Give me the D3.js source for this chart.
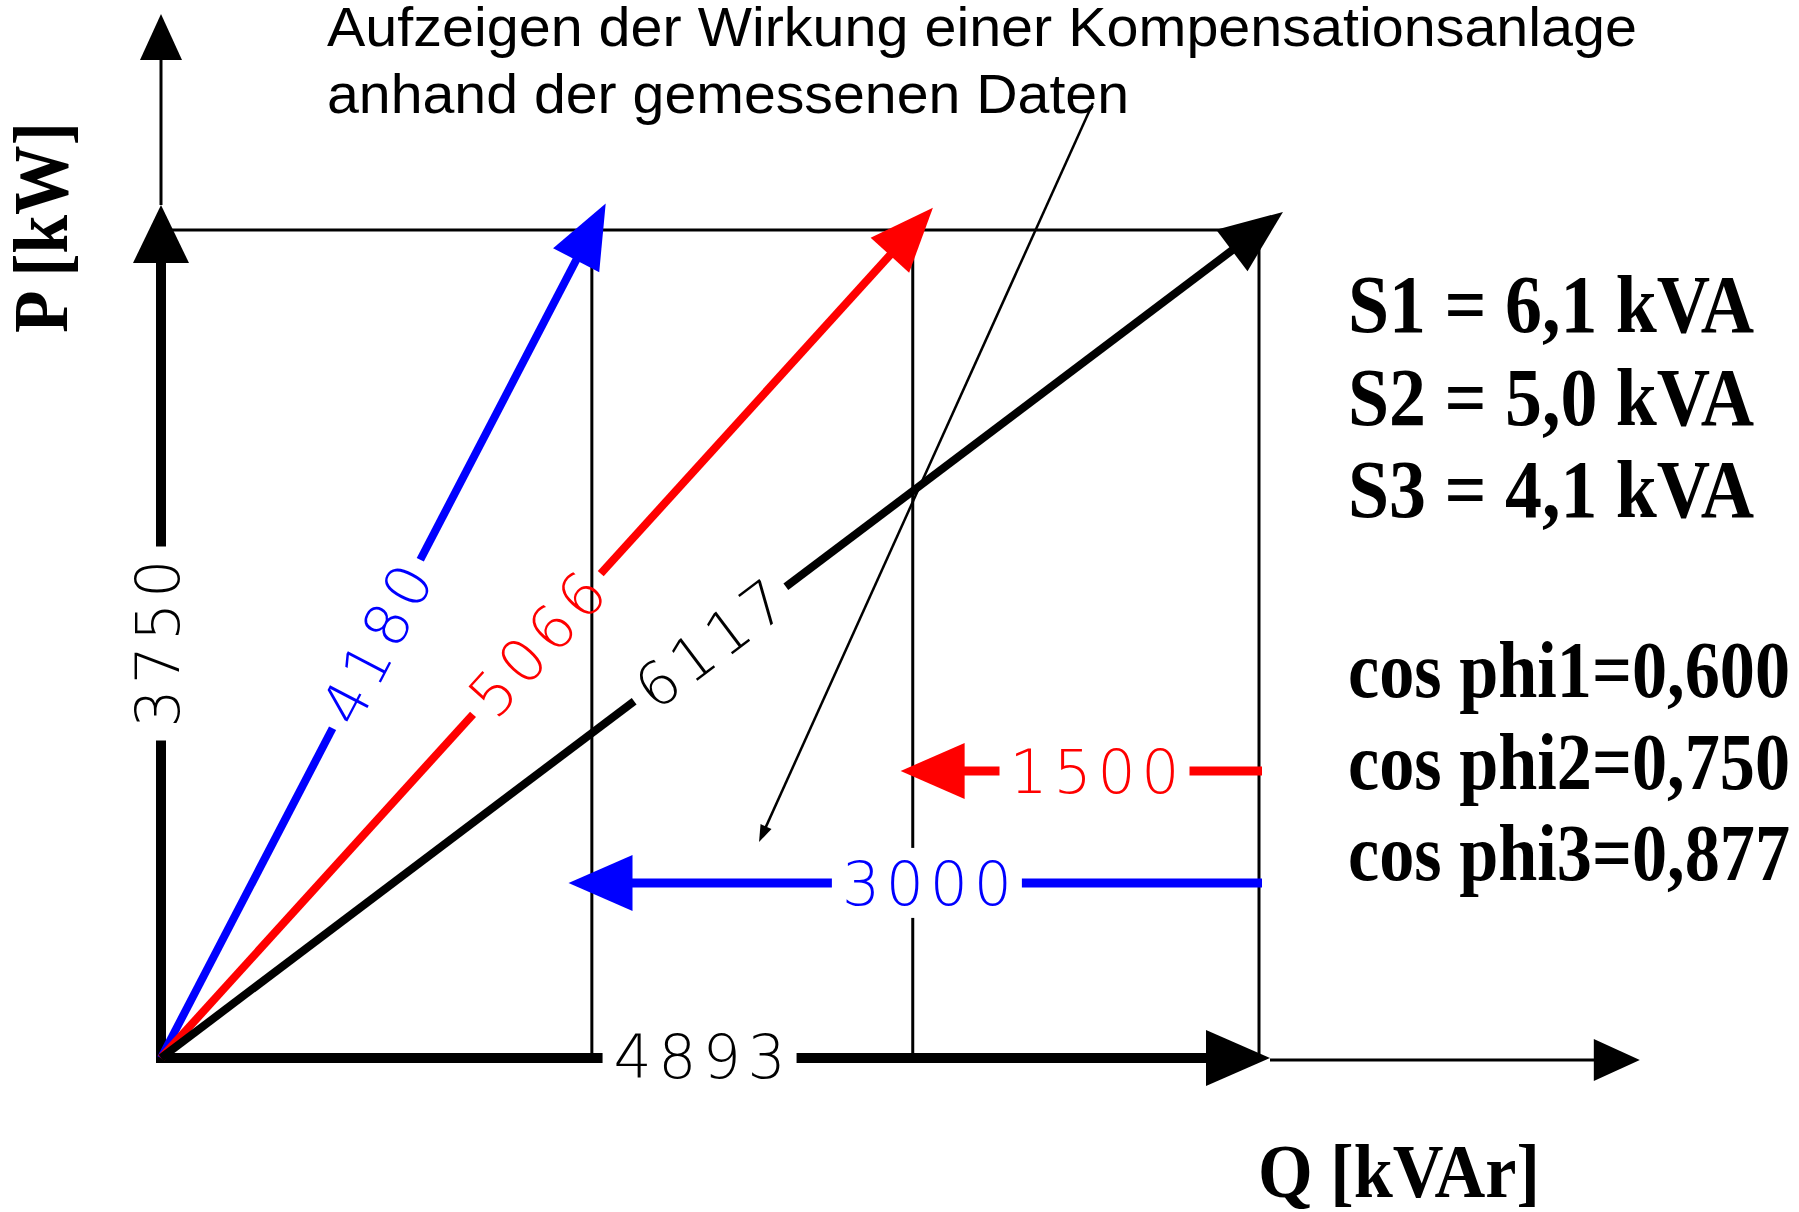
<!DOCTYPE html>
<html lang="de">
<head>
    <meta charset="UTF-8">
    <title>Wirkung einer Kompensationsanlage</title>
    <script src="https://d3js.org/d3.v7.min.js"></script>
    <style>
        html, body { margin: 0; padding: 0; background: #fff; }
        .title { font-family: "Liberation Sans", Arial, sans-serif; font-size: 55px; }
        .serif { font-family: "Liberation Serif", "Times New Roman", serif; font-weight: bold; }
        .num { font-family: "DejaVu Sans", sans-serif; font-weight: 200; font-size: 60px; }
    </style>
</head>
<body>
    <svg width="1799" height="1212"></svg>
    <script>
        // Q values (kVAr) where each power vector ends, P is the same for all three
        const vectorQ = [1920, 3350, 4893];
        const vectorP = 3750;
        const vectorLabels = ["4180", "5066", "6117"];
        const vectorColors = ["#0000ff", "#ff0000", "#000000"];

        // compensation arrows (drawn right to left from Q = 4893)
        const compLabels = ["1500", "3000"];
        const compP = [1300, 793];
        const compTipQ = [3296, 1816];
        const compLabelQ = [4160, 3413];
        const compColors = ["#ff0000", "#0000ff"];

        // axis labels and extents
        const qLabel = "4893", qLabelAt = 2400, qAxisEnd = 6590;
        const pLabel = "3750", pLabelAt = 1877, pAxisEnd = 4728;

        const titleLines = ["Aufzeigen der Wirkung einer Kompensationsanlage", "anhand der gemessenen Daten"];
        const sTexts = ["S1 = 6,1 kVA", "S2 = 5,0 kVA", "S3 = 4,1 kVA"];
        const cosTexts = ["cos phi1=0,600", "cos phi2=0,750", "cos phi3=0,877"];

        // annotation pointer from the title down into the picture
        const pointer = [{q: 4153, p: 4325}, {q: 2665, p: 978}];

        const svg = d3.select("svg");

        const x = d3.scaleLinear().domain([0, 4893]).range([161, 1259]);
        const y = d3.scaleLinear().domain([0, 3750]).range([1058, 230]);

        const x0 = x(0), y0 = y(0);
        const gap = 190;

        function seg(a, b, color, w) {
            svg.append("line")
                .attr("x1", a[0]).attr("y1", a[1])
                .attr("x2", b[0]).attr("y2", b[1])
                .attr("stroke", color).attr("stroke-width", w);
        }

        function head(tip, ux, uy, len, half, color) {
            const bx = tip[0] - ux * len, by = tip[1] - uy * len;
            const nx = -uy, ny = ux;
            svg.append("polygon")
                .attr("points", [
                    tip,
                    [bx + nx * half, by + ny * half],
                    [bx - nx * half, by - ny * half]
                ].map(p => p.join(",")).join(" "))
                .attr("fill", color);
        }

        function label(text, cx, cy, angle, color, len) {
            svg.append("text")
                .attr("class", "num")
                .attr("transform", `translate(${cx},${cy}) rotate(${angle})`)
                .attr("text-anchor", "middle")
                .attr("dy", "0.36em")
                .attr("textLength", len)
                .attr("lengthAdjust", "spacing")
                .attr("fill", color)
                .text(text);
        }

        // thin helper lines
        seg([x0, y(vectorP)], [x(4893), y(vectorP)], "#000", 3);
        vectorQ.forEach(q => seg([x(q), y(vectorP)], [x(q), y0], "#000", 3));

        // pointer
        {
            const a = [x(pointer[0].q), y(pointer[0].p)], b = [x(pointer[1].q), y(pointer[1].p)];
            const L = Math.hypot(b[0] - a[0], b[1] - a[1]);
            const ux = (b[0] - a[0]) / L, uy = (b[1] - a[1]) / L;
            seg(a, [b[0] - ux * 12, b[1] - uy * 12], "#000", 2.5);
            head(b, ux, uy, 17, 6, "#000");
        }

        // P axis
        const pMid = y(pLabelAt);
        const pTip = y(vectorP) - 25;
        seg([x0, y0 + 5], [x0, pMid + gap / 2 + 2], "#000", 10);
        seg([x0, pMid - gap / 2 - 2], [x0, pTip + 50], "#000", 10);
        head([x0, pTip], 0, -1, 58, 28, "#000");
        seg([x0, pTip], [x0, y(pAxisEnd) + 40], "#000", 3);
        head([x0, y(pAxisEnd)], 0, -1, 46, 21, "#000");
        label(pLabel, x0 - 4, pMid, -90, "#000", 168);

        // Q axis
        const qMid = x(qLabelAt);
        const qTip = x(4893) + 11;
        seg([x0 - 5, y0], [qMid - gap / 2 - 2, y0], "#000", 10);
        seg([qMid + gap / 2 + 2, y0], [qTip - 55, y0], "#000", 10);
        head([qTip, y0], 1, 0, 64, 28, "#000");
        seg([qTip, y0 + 2], [x(qAxisEnd) - 40, y0 + 2], "#000", 3);
        head([x(qAxisEnd), y0 + 2], 1, 0, 46, 21, "#000");
        label(qLabel, qMid, y0 - 2, 0, "#000", 172);

        // power vectors S
        vectorQ.forEach((q, i) => {
            const ex = x(q), ey = y(vectorP);
            const L = Math.hypot(ex - x0, ey - y0);
            const ux = (ex - x0) / L, uy = (ey - y0) / L;
            const tipL = L + 30;
            const tip = [x0 + ux * tipL, y0 + uy * tipL];
            const mx = x0 + ux * L / 2, my = y0 + uy * L / 2;
            const c = vectorColors[i];
            seg([x0, y0], [mx - ux * gap / 2, my - uy * gap / 2], c, 8);
            seg([mx + ux * gap / 2, my + uy * gap / 2], [tip[0] - ux * 55, tip[1] - uy * 55], c, 8);
            head(tip, ux, uy, 64, 26, c);
            const ang = Math.atan2(uy, ux) * 180 / Math.PI;
            label(vectorLabels[i], mx, my, ang, c, 170);
        });

        // compensation arrows
        compLabels.forEach((t, i) => {
            const yy = y(compP[i]);
            const tipX = x(compTipQ[i]);
            const lx = x(compLabelQ[i]);
            const c = compColors[i];
            svg.append("rect")
                .attr("x", lx - gap / 2).attr("y", yy - 35)
                .attr("width", gap).attr("height", 70)
                .attr("fill", "#fff");
            seg([x(4893) + 3, yy], [lx + gap / 2, yy], c, 9);
            seg([lx - gap / 2, yy], [tipX + 55, yy], c, 9);
            head([tipX, yy], -1, 0, 64, 28, c);
            label(t, lx, yy, 0, c, 170);
        });

        // title
        svg.selectAll(".title")
            .data(titleLines)
            .enter().append("text")
            .attr("class", "title")
            .attr("x", 327)
            .attr("y", (d, i) => [46, 113][i])
            .attr("textLength", (d, i) => [1310, 802][i])
            .attr("lengthAdjust", "spacingAndGlyphs")
            .text(d => d);

        // apparent power and cos phi text
        svg.selectAll(".stext")
            .data(sTexts)
            .enter().append("text")
            .attr("class", "serif stext")
            .attr("x", 1348)
            .attr("y", (d, i) => 332 + i * 92.5)
            .attr("font-size", 82)
            .attr("textLength", 406)
            .attr("lengthAdjust", "spacingAndGlyphs")
            .text(d => d);

        svg.selectAll(".ctext")
            .data(cosTexts)
            .enter().append("text")
            .attr("class", "serif ctext")
            .attr("x", 1348)
            .attr("y", (d, i) => 697 + i * 91.5)
            .attr("font-size", 80)
            .attr("textLength", 442)
            .attr("lengthAdjust", "spacingAndGlyphs")
            .text(d => d);

        // axis titles
        svg.append("text")
            .attr("class", "serif")
            .attr("x", 1258).attr("y", 1197)
            .attr("font-size", 77)
            .attr("textLength", 282)
            .attr("lengthAdjust", "spacingAndGlyphs")
            .text("Q [kVAr]");

        svg.append("text")
            .attr("class", "serif")
            .attr("transform", "translate(67,333) rotate(-90)")
            .attr("font-size", 78)
            .attr("textLength", 211)
            .attr("lengthAdjust", "spacingAndGlyphs")
            .text("P [kW]");
    </script>
</body>
</html>
